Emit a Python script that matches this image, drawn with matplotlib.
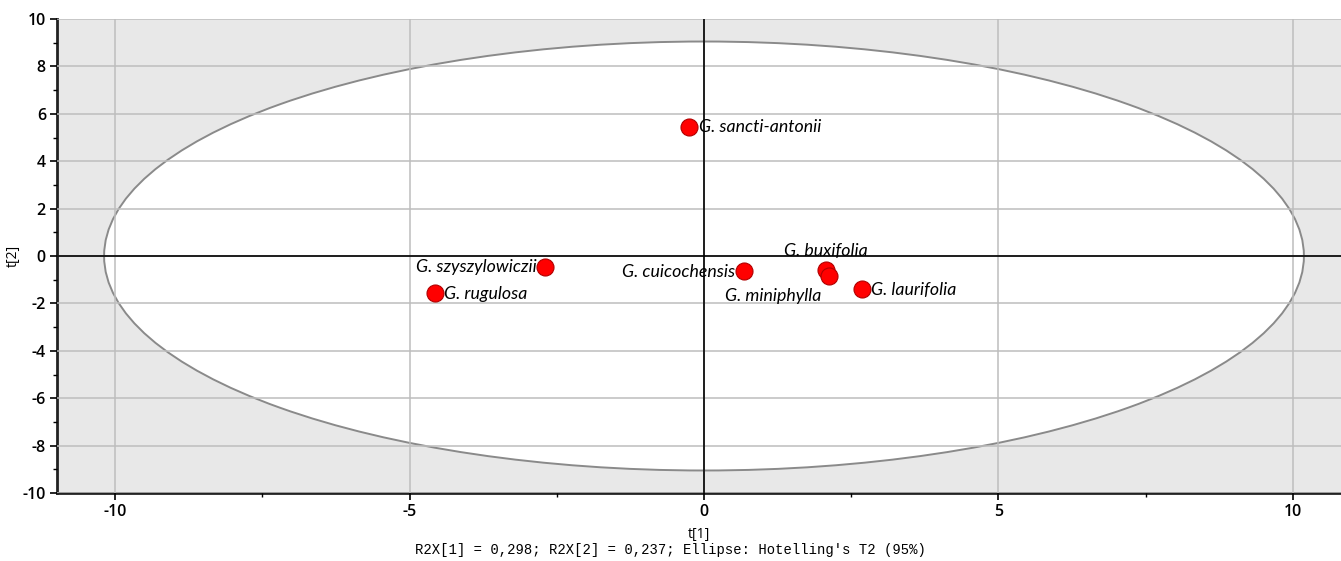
import matplotlib
matplotlib.use("Agg")
import matplotlib.pyplot as plt
from matplotlib.patches import Ellipse
from matplotlib.ticker import MultipleLocator, FuncFormatter

species = ["G. sancti-antonii", "G. szyszylowiczii", "G. rugulosa", "G. cuicochensis",
           "G. buxifolia", "G. miniphylla", "G. laurifolia"]
t1 = [-0.25, -2.70, -4.57, 0.68, 2.07, 2.12, 2.68]
t2 = [5.43, -0.46, -1.56, -0.63, -0.59, -0.84, -1.39]
ellipse_a = 10.19
ellipse_b = 9.05
footer = "R2X[1] = 0,298; R2X[2] = 0,237; Ellipse: Hotelling's T2 (95%)"

# label offsets in pixels (layout only)
offsets = {
    "G. sancti-antonii": (10, 0, "left"),
    "G. szyszylowiczii": (-8, 0, "right"),
    "G. rugulosa": (9, -1, "left"),
    "G. cuicochensis": (-9, -1, "right"),
    "G. buxifolia": (0, 19, "center"),
    "G. miniphylla": (-56, -20, "center"),
    "G. laurifolia": (9, -1, "left"),
}

fig = plt.figure(figsize=(13.41, 5.61), dpi=100)
ax = fig.add_axes([57/1341, 68/561, 1 - 57/1341, (493-19)/561])
ax.set_xlim(-10.99, 10.82)
ax.set_ylim(-10, 10)
ax.set_facecolor("#e8e8e8")

ax.add_patch(Ellipse((0, 0), 2*ellipse_a, 2*ellipse_b, facecolor="white",
                     edgecolor="#8a8a8a", linewidth=1.4, zorder=1))

ax.xaxis.set_major_locator(MultipleLocator(5))
ax.xaxis.set_minor_locator(MultipleLocator(2.5))
ax.yaxis.set_major_locator(MultipleLocator(2))
ax.yaxis.set_minor_locator(MultipleLocator(1))
ax.grid(True, which="major", color="#bdbdbd", linewidth=1.1, zorder=2)
ax.set_axisbelow(False)
ax.axhline(0, color="black", linewidth=1.2, zorder=3)
ax.axvline(0, color="black", linewidth=1.2, zorder=3)

for s in ["top", "right"]:
    ax.spines[s].set_visible(False)
for s in ["left", "bottom"]:
    ax.spines[s].set_linewidth(2)
    ax.spines[s].set_color("#222222")

ax.xaxis.set_major_formatter(FuncFormatter(lambda v, p: f"{v:g}"))
ax.yaxis.set_major_formatter(FuncFormatter(lambda v, p: f"{v:g}"))
ax.tick_params(which="major", length=5, width=1.2, labelsize=11.5, pad=3)
ax.tick_params(which="minor", length=3, width=1.0)
for lbl in ax.get_xticklabels() + ax.get_yticklabels():
    lbl.set_fontfamily(["Open Sans", "DejaVu Sans"])
    lbl.set_fontweight("semibold")

ax.scatter(t1, t2, s=150, color="#ff0000", edgecolors="#b00000", linewidths=0.8, zorder=5)

for name, x, y in zip(species, t1, t2):
    dx, dy, ha = offsets[name]
    ax.annotate(name, (x, y), xytext=(dx, dy), textcoords="offset pixels",
                ha=ha, va="center", fontsize=12.8, style="italic",
                family=["Lato", "DejaVu Sans"], zorder=6)

ax.set_xlabel("t[1]", fontsize=10, family=["Open Sans", "DejaVu Sans"], labelpad=5)
ax.set_ylabel("t[2]", fontsize=10, family=["Open Sans", "DejaVu Sans"], labelpad=1)
fig.text(0.5 + 0.0, 11/561, footer, ha="center", va="center", fontsize=10,
         family=["Liberation Mono", "DejaVu Sans Mono"])

fig.savefig("out.png", dpi=100)
